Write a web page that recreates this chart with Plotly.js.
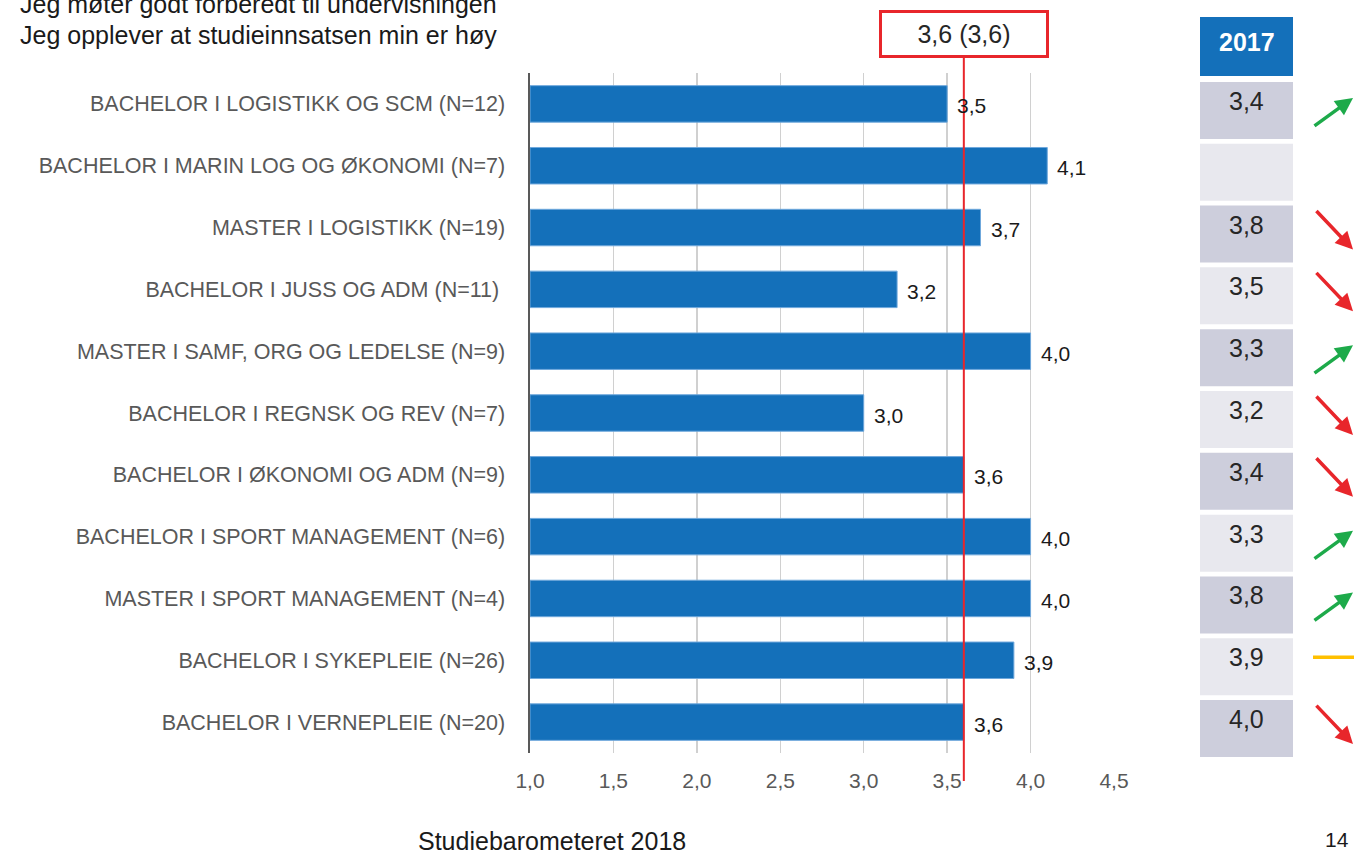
<!DOCTYPE html>
<html>
<head>
<meta charset="utf-8">
<script src="https://cdn.plot.ly/plotly-3.0.1.min.js"></script>
<style>
  html, body { margin: 0; padding: 0; background: #ffffff; }
  #chart { width: 1354px; height: 854px; }
</style>
</head>
<body>
<div id="chart"></div>
<script>
// ---------- DATA ----------
const categories = [
  "BACHELOR I LOGISTIKK OG SCM (N=12)",
  "BACHELOR I MARIN LOG OG ØKONOMI (N=7)",
  "MASTER I LOGISTIKK (N=19)",
  "BACHELOR I JUSS OG ADM (N=11)\u00a0",
  "MASTER I SAMF, ORG OG LEDELSE (N=9)",
  "BACHELOR I REGNSK OG REV (N=7)",
  "BACHELOR I ØKONOMI OG ADM (N=9)",
  "BACHELOR I SPORT MANAGEMENT (N=6)",
  "MASTER I SPORT MANAGEMENT (N=4)",
  "BACHELOR I SYKEPLEIE (N=26)",
  "BACHELOR I VERNEPLEIE (N=20)"
];
const values2018 = [3.5, 4.1, 3.7, 3.2, 4.0, 3.0, 3.6, 4.0, 4.0, 3.9, 3.6];
const values2017 = [3.4, null, 3.8, 3.5, 3.3, 3.2, 3.4, 3.3, 3.8, 3.9, 4.0];
const trends = ["up", null, "down", "down", "up", "down", "down", "up", "up", "flat", "down"];
const averageNow = 3.6;
const averagePrev = 3.6;
const titleLines = ["Jeg møter godt forberedt til undervisningen", "Jeg opplever at studieinnsatsen min er høy"];
const tableHeader = "2017";
const footerText = "Studiebarometeret 2018";
const pageNumber = "14";
const xTickValues = [1.0, 1.5, 2.0, 2.5, 3.0, 3.5, 4.0, 4.5];

// ---------- LAYOUT GEOMETRY ----------
const W = 1354, H = 854;
const plotL = 530, plotR = 1114, plotT = 73, plotB = 753;
const PX = v => (v - plotL) / (plotR - plotL);
const PY = v => (plotB - v) / (plotB - plotT);
const rowH = (plotB - plotT) / categories.length;
const rowCenter = i => plotT + (i + 0.5) * rowH;
const fmt = v => v.toFixed(1).replace(".", ",");

const FONT = "Liberation Sans, Arial, Helvetica, sans-serif";
const BLUE = "#1470BA";
const RED = "#E8262B";
const GREEN = "#1DAA4A";
const YELLOW = "#FFC000";

const shapes = [];
const annotations = [];

// value labels
values2018.forEach((v, i) => {
  annotations.push({
    x: v, y: categories[i], xref: "x", yref: "y",
    text: fmt(v), showarrow: false, xanchor: "left", yanchor: "middle",
    xshift: 8, yshift: -2,
    font: { family: FONT, size: 21, color: "#1a1a1a" }
  });
});

// average line + box
shapes.push({
  type: "line", xref: "x", yref: "paper",
  x0: averageNow, x1: averageNow, y0: PY(781), y1: PY(58),
  line: { color: RED, width: 2 }, layer: "above"
});
annotations.push({
  x: averageNow, xref: "x", y: PY(34), yref: "paper",
  text: fmt(averageNow) + " (" + fmt(averagePrev) + ")",
  showarrow: false, xanchor: "center", yanchor: "middle",
  width: 164, height: 42, bgcolor: "#ffffff",
  bordercolor: RED, borderwidth: 3, borderpad: 0,
  font: { family: FONT, size: 25, color: "#262626" }
});

// titles
titleLines.forEach((t, k) => {
  annotations.push({
    x: PX(18), xref: "paper", y: PY(4 + k * 31), yref: "paper",
    text: t, showarrow: false, xanchor: "left", yanchor: "middle",
    font: { family: FONT, size: 25, color: "#1a1a1a" }
  });
});

// table header
const tabL = 1200, tabR = 1293;
shapes.push({
  type: "rect", xref: "paper", yref: "paper",
  x0: PX(tabL), x1: PX(tabR), y0: PY(76), y1: PY(17),
  fillcolor: BLUE, line: { width: 0 }, layer: "below"
});
annotations.push({
  x: PX((tabL + tabR) / 2), xref: "paper", y: PY(42), yref: "paper",
  text: "<b>" + tableHeader + "</b>", showarrow: false,
  xanchor: "center", yanchor: "middle",
  font: { family: FONT, size: 25, color: "#ffffff" }
});

// table cells + trend arrows
values2017.forEach((v, i) => {
  const c = rowCenter(i);
  shapes.push({
    type: "rect", xref: "paper", yref: "paper",
    x0: PX(tabL), x1: PX(tabR), y0: PY(c + 35), y1: PY(c - 22),
    fillcolor: i % 2 === 0 ? "#CDCEDC" : "#E8E8EE", line: { width: 0 }, layer: "below"
  });
  if (v !== null) {
    annotations.push({
      x: PX((tabL + tabR) / 2), xref: "paper", y: PY(c - 3), yref: "paper",
      text: fmt(v), showarrow: false, xanchor: "center", yanchor: "middle",
      font: { family: FONT, size: 25, color: "#262626" }
    });
  }
  const tr = trends[i];
  if (tr === "up") {
    annotations.push({
      x: PX(1353), xref: "paper", y: PY(c - 6), yref: "paper",
      ax: -40, ay: 29, text: "", showarrow: true,
      arrowhead: 2, arrowsize: 1, arrowwidth: 3.5, arrowcolor: GREEN
    });
  } else if (tr === "down") {
    annotations.push({
      x: PX(1354), xref: "paper", y: PY(c + 22), yref: "paper",
      ax: -39, ay: -40, text: "", showarrow: true,
      arrowhead: 2, arrowsize: 1, arrowwidth: 3.5, arrowcolor: RED
    });
  } else if (tr === "flat") {
    shapes.push({
      type: "line", xref: "paper", yref: "paper",
      x0: PX(1313), x1: PX(1354), y0: PY(c - 3), y1: PY(c - 3),
      line: { color: YELLOW, width: 3.5 }
    });
  }
});

// footer
annotations.push({
  x: PX(416), xref: "paper", y: PY(857), yref: "paper",
  text: footerText, showarrow: false, xanchor: "left", yanchor: "bottom",
  font: { family: FONT, size: 25, color: "#1a1a1a" }
});
annotations.push({
  x: PX(1351), xref: "paper", y: PY(853), yref: "paper",
  text: pageNumber, showarrow: false, xanchor: "right", yanchor: "bottom",
  font: { family: FONT, size: 21, color: "#1a1a1a" }
});

const trace = {
  type: "bar", orientation: "h",
  x: values2018.map(v => v - 1), y: categories,
  base: 1,
  marker: { color: BLUE, line: { color: "#6FA8DC", width: 1 } },
  hoverinfo: "skip",
  width: 0.59
};

const layout = {
  width: W, height: H, autosize: false,
  margin: { l: plotL, r: W - plotR, t: plotT, b: H - plotB, pad: 0 },
  paper_bgcolor: "#ffffff", plot_bgcolor: "#ffffff",
  separators: ", ",
  showlegend: false,
  font: { family: FONT },
  xaxis: {
    range: [1, 4.5], tickvals: xTickValues, tickformat: ".1f",
    showgrid: true, gridcolor: "#D0D0D0", gridwidth: 1.5,
    zeroline: false, showline: false, ticks: "",
    ticklabelstandoff: 13,
    tickfont: { family: FONT, size: 21, color: "#595959" }
  },
  yaxis: {
    type: "category", range: [categories.length - 0.5, -0.5],
    showgrid: false, zeroline: false,
    showline: true, linecolor: "#595959", linewidth: 2.5,
    ticks: "", ticklabelstandoff: 18,
    tickfont: { family: FONT, size: 21.5, color: "#595959" }
  },
  shapes: shapes,
  annotations: annotations
};

Plotly.newPlot("chart", [trace], layout, { displayModeBar: false, staticPlot: true });
</script>
</body>
</html>
